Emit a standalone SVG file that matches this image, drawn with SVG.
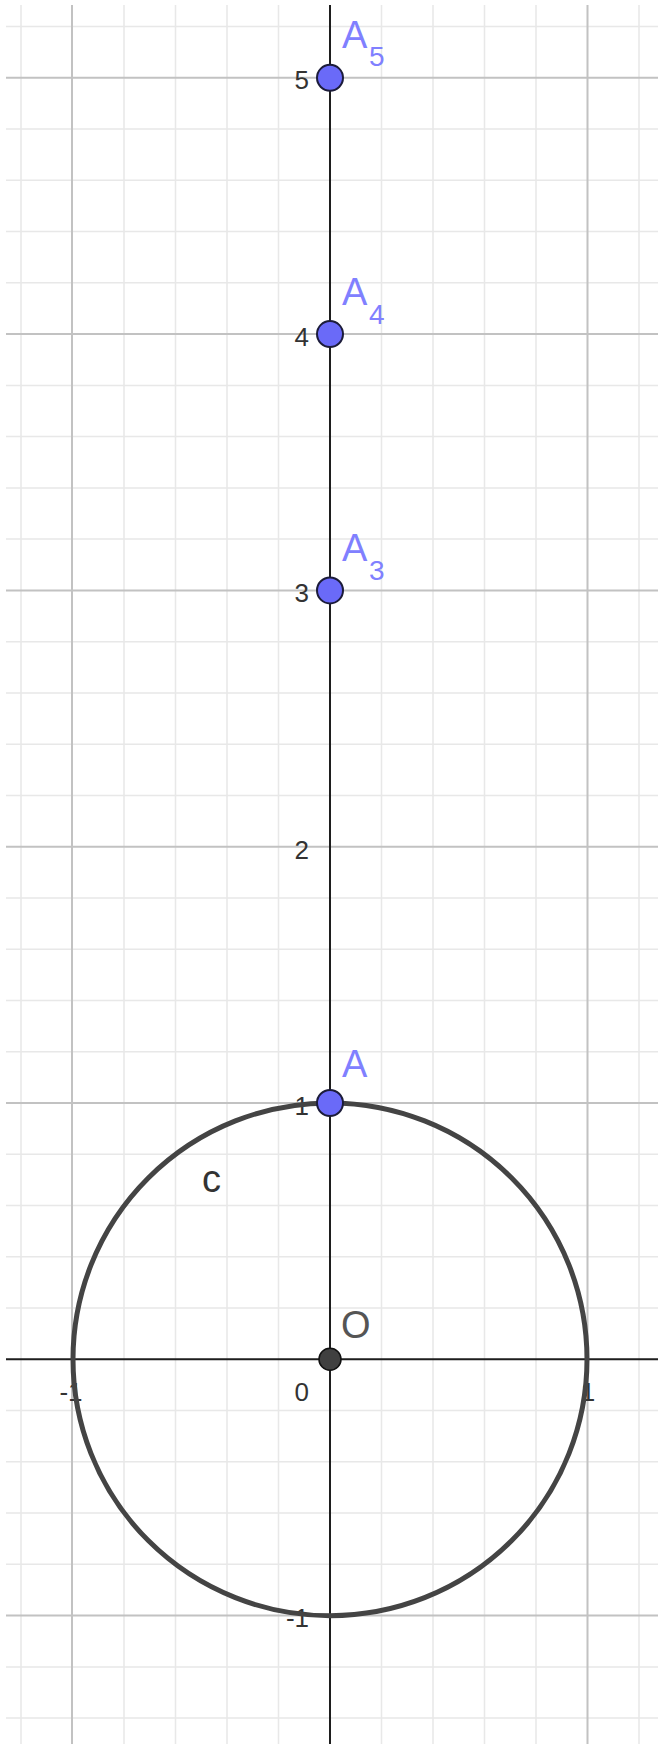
<svg xmlns="http://www.w3.org/2000/svg" width="658" height="1744" viewBox="0 0 658 1744">
<style>
.minor{stroke:#e8e8e8;stroke-width:1.5;fill:none}
.major{stroke:#c2c2c2;stroke-width:2;fill:none}
.axis{stroke:#1e1e1e;stroke-width:2;fill:none}
.num{font-family:"Liberation Sans",Arial,sans-serif;font-size:26px;fill:#333}
.lbl{font-family:"Liberation Sans",Arial,sans-serif;font-size:38px;fill:#8080ff}
.sub{font-family:"Liberation Sans",Arial,sans-serif;font-size:28px;fill:#8080ff}
.pt{fill:#6a6af8;stroke:#1c1c3a;stroke-width:2}
</style>
<rect x="0" y="0" width="658" height="1744" fill="#fff"/>
<g id="grid-minor" class="minor">
<path d="M21 5V1744M124 5V1744M175.5 5V1744M227 5V1744M278.5 5V1744M381.5 5V1744M433 5V1744M484.5 5V1744M536 5V1744M639 5V1744"/>
<path d="M6 26.5H658M6 129.1H658M6 180.3H658M6 231.6H658M6 282.8H658M6 385.4H658M6 436.6H658M6 487.9H658M6 539.1H658M6 641.7H658M6 692.9H658M6 744.2H658M6 795.4H658M6 898H658M6 949.2H658M6 1000.5H658M6 1051.7H658M6 1154.3H658M6 1205.5H658M6 1256.8H658M6 1308H658M6 1410.6H658M6 1461.8H658M6 1513.1H658M6 1564.3H658M6 1666.9H658M6 1718.1H658"/>
</g>
<g id="grid-major" class="major">
<path d="M72 5V1744M587.5 5V1744"/>
<path d="M6 77.8H658M6 334.1H658M6 590.4H658M6 846.7H658M6 1103H658M6 1615.6H658"/>
</g>
<g id="axes">
<path class="axis" d="M6 1359.3H658M330 5V1744"/>
<text class="num" x="309" y="89" text-anchor="end">5</text>
<text class="num" x="309" y="346" text-anchor="end">4</text>
<text class="num" x="309" y="602" text-anchor="end">3</text>
<text class="num" x="309" y="859" text-anchor="end">2</text>
<text class="num" x="309" y="1115" text-anchor="end">1</text>
<text class="num" x="309" y="1627" text-anchor="end">-1</text>
<text class="num" x="309" y="1401" text-anchor="end">0</text>
<text class="num" x="71" y="1401" text-anchor="middle">-1</text>
<text class="num" x="588" y="1401" text-anchor="middle">1</text>
</g>
<g id="connectors">
<g id="circle-c">
<ellipse cx="330" cy="1359.3" rx="257" ry="256.4" fill="none" stroke="#444" stroke-width="5"/>
<text x="202" y="1192" font-family="Liberation Sans,Arial,sans-serif" font-size="38" fill="#333">c</text>
</g>
</g>
<g id="point-O">
<circle cx="330" cy="1359.3" r="11" fill="#404040" stroke="#111" stroke-width="1.5"/>
<text x="341" y="1338" font-family="Liberation Sans,Arial,sans-serif" font-size="38" fill="#555">O</text>
</g>
<g id="point-A">
<circle class="pt" cx="330" cy="1103" r="13"/>
<text class="lbl" x="342" y="1077">A</text>
</g>
<g id="point-A3">
<circle class="pt" cx="330" cy="590.4" r="13"/>
<text class="lbl" x="342" y="561">A</text><text class="sub" x="369" y="580">3</text>
</g>
<g id="point-A4">
<circle class="pt" cx="330" cy="334.1" r="13"/>
<text class="lbl" x="342" y="305">A</text><text class="sub" x="369" y="324">4</text>
</g>
<g id="point-A5">
<circle class="pt" cx="330" cy="77.8" r="13"/>
<text class="lbl" x="342" y="48">A</text><text class="sub" x="369" y="66">5</text>
</g>
</svg>
